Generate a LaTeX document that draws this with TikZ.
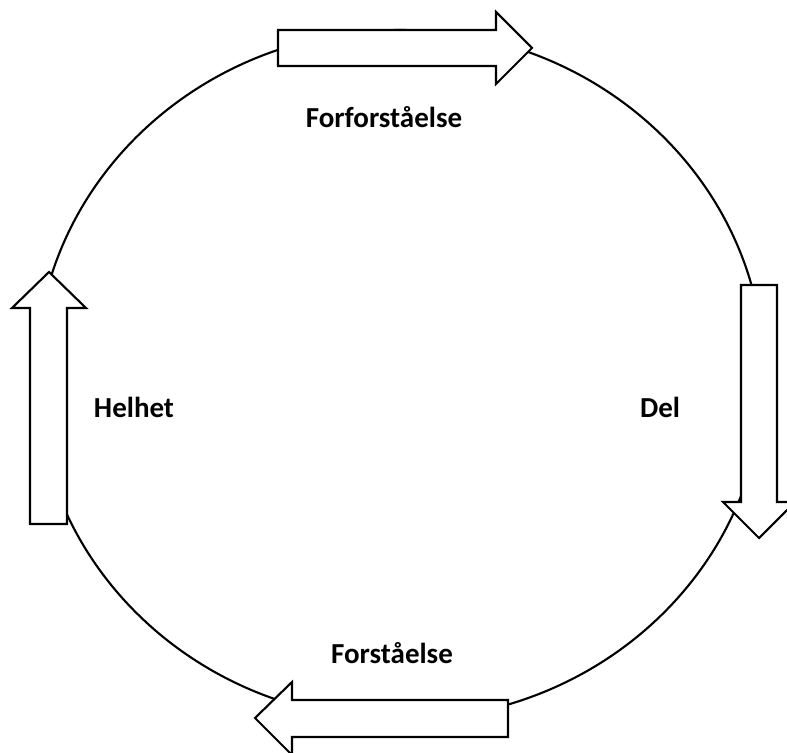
\documentclass[tikz,border=0pt]{standalone}
\usepackage{fontspec}
\setmainfont{Carlito}
\begin{document}
\begin{tikzpicture}[x=0.02cm,y=-0.02cm,
  line/.style={line width=1.2pt,line join=miter},
  blockarrow/.style={line,draw=black,fill=white},
  lbl/.style={font=\bfseries\fontsize{16.5}{18}\selectfont,inner sep=0pt,anchor=center}]
\useasboundingbox (0,0) rectangle (787,753);
% cycle
\draw[line] (400,375) ellipse [x radius=364, y radius=345];
% top arrow (right)
\draw[blockarrow] (278,30) -- (496,30) -- (496,12) -- (532,48) -- (496,84) -- (496,66) -- (278,66) -- cycle;
% right arrow (down)
\draw[blockarrow] (741,285) -- (777,285) -- (777,502) -- (795,502) -- (759,538) -- (723,502) -- (741,502) -- cycle;
% bottom arrow (left)
\draw[blockarrow] (508,700) -- (292,700) -- (292,682) -- (255,718) -- (292,755) -- (292,737) -- (508,737) -- cycle;
% left arrow (up)
\draw[blockarrow] (30,524) -- (30,308) -- (12,308) -- (49,272) -- (86,308) -- (67,308) -- (67,524) -- cycle;
% labels
\node[lbl] (forfor) at (384,117) {Forforståelse};
\node[lbl] (del) at (660,407) {Del};
\node[lbl] (forst) at (392,653) {Forståelse};
\node[lbl] (helhet) at (134,407) {Helhet};
\end{tikzpicture}
\end{document}
